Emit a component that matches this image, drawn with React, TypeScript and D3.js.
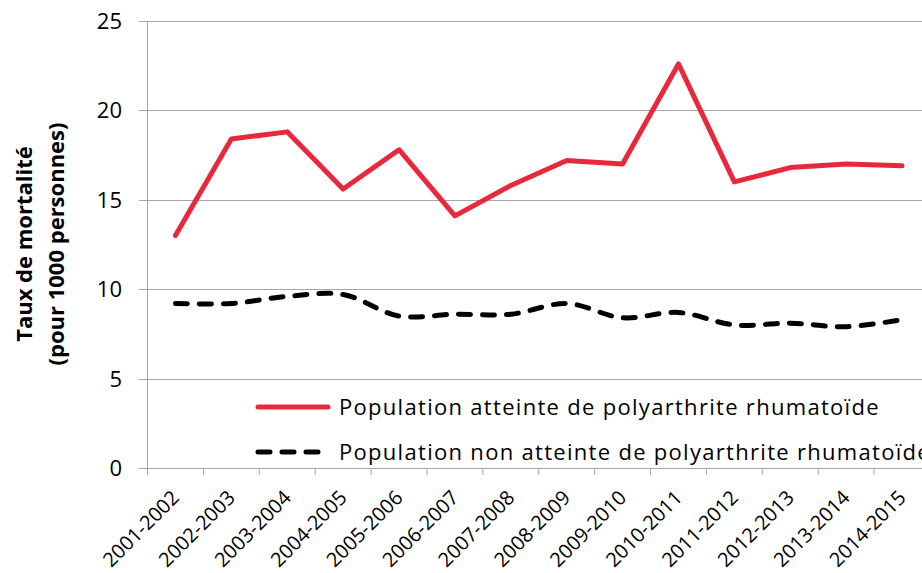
import React from "react";
import * as d3 from "d3";

const categories = [
  "2001-2002", "2002-2003", "2003-2004", "2004-2005", "2005-2006", "2006-2007", "2007-2008",
  "2008-2009", "2009-2010", "2010-2011", "2011-2012", "2012-2013", "2013-2014", "2014-2015",
];
const withRA = [13.0, 18.4, 18.8, 15.6, 17.8, 14.1, 15.8, 17.2, 17.0, 22.6, 16.0, 16.8, 17.0, 16.9];
const withoutRA = [9.2, 9.2, 9.6, 9.7, 8.5, 8.6, 8.6, 9.2, 8.4, 8.7, 8.0, 8.1, 7.9, 8.3];
const yTicks = [0, 5, 10, 15, 20, 25];
const seriesNames = [
  "Population atteinte de polyarthrite rhumatoïde",
  "Population non atteinte de polyarthrite rhumatoïde",
];

const W = 922, H = 573;
const left = 147.5, right = 930, top = 21, bottom = 468;
const FONT = "'Open Sans', sans-serif";

export default function App() {
  const x = d3.scaleBand<string>().domain(categories).range([left, right]).padding(0);
  const y = d3.scaleLinear().domain([0, 25]).range([bottom, top]);
  const cx = (c: string) => (x(c) as number) + x.bandwidth() / 2;
  const redLine = d3.line<number>().x((_, i) => cx(categories[i])).y((d) => y(d));
  const blackLine = d3
    .line<number>()
    .x((_, i) => cx(categories[i]))
    .y((d) => y(d))
    .curve(d3.curveCatmullRom.alpha(0.5));
  const grid = "#a6a6a6";
  return (
    <svg width={W} height={H} style={{ position: "absolute", left: 0, top: 0, background: "#fff" }} fontFamily={FONT}>
      {yTicks.map((t) => (
        <g key={t}>
          {t > 0 && <line x1={left} x2={right} y1={Math.round(y(t)) + 0.5} y2={Math.round(y(t)) + 0.5} stroke={grid} strokeWidth={1} />}
          <line x1={139} x2={left} y1={Math.round(y(t)) + 0.5} y2={Math.round(y(t)) + 0.5} stroke={grid} strokeWidth={1} />
          <text x={122} y={y(t) + 8} textAnchor="end" fontSize={22} fill="#000">{t}</text>
        </g>
      ))}
      <line x1={left} x2={left} y1={top} y2={bottom + 7} stroke={grid} strokeWidth={1} />
      <line x1={left} x2={right} y1={bottom + 0.5} y2={bottom + 0.5} stroke={grid} strokeWidth={1} />
      {categories.map((c) => (
        <line key={"t" + c} x1={(x(c) as number) + x.bandwidth()} x2={(x(c) as number) + x.bandwidth()} y1={bottom} y2={bottom + 7} stroke={grid} strokeWidth={1} />
      ))}
      {categories.map((c) => (
        <text key={"l" + c} transform={`translate(${cx(c) + 5},${bottom + 31}) rotate(-45)`} textAnchor="end" fontSize={20} fill="#000">{c}</text>
      ))}
      <path d={redLine(withRA) || ""} fill="none" stroke="#e8283c" strokeWidth={5} strokeLinejoin="round" strokeLinecap="round" />
      <path d={blackLine(withoutRA) || ""} fill="none" stroke="#000" strokeWidth={5} strokeDasharray="12,12" strokeLinecap="round" />
      <line x1={258} x2={328} y1={407} y2={407} stroke="#e8283c" strokeWidth={5} strokeLinecap="round" />
      <text x={339} y={415} fontSize={22} letterSpacing={1.3} fill="#000">{seriesNames[0]}</text>
      <line x1={258} x2={328} y1={452} y2={452} stroke="#000" strokeWidth={5} strokeDasharray="12,12" strokeLinecap="round" />
      <text x={339} y={460} fontSize={22} letterSpacing={1.3} fill="#000">{seriesNames[1]}</text>
      <g transform="translate(32,244) rotate(-90)">
        <text x={0} y={0} textAnchor="middle" fontSize={22} fontWeight="bold" fill="#000">Taux de mortalité</text>
        <text x={0} y={32} textAnchor="middle" fontSize={22} fontWeight="bold" fill="#000">(pour 1000 personnes)</text>
      </g>
    </svg>
  );
}
